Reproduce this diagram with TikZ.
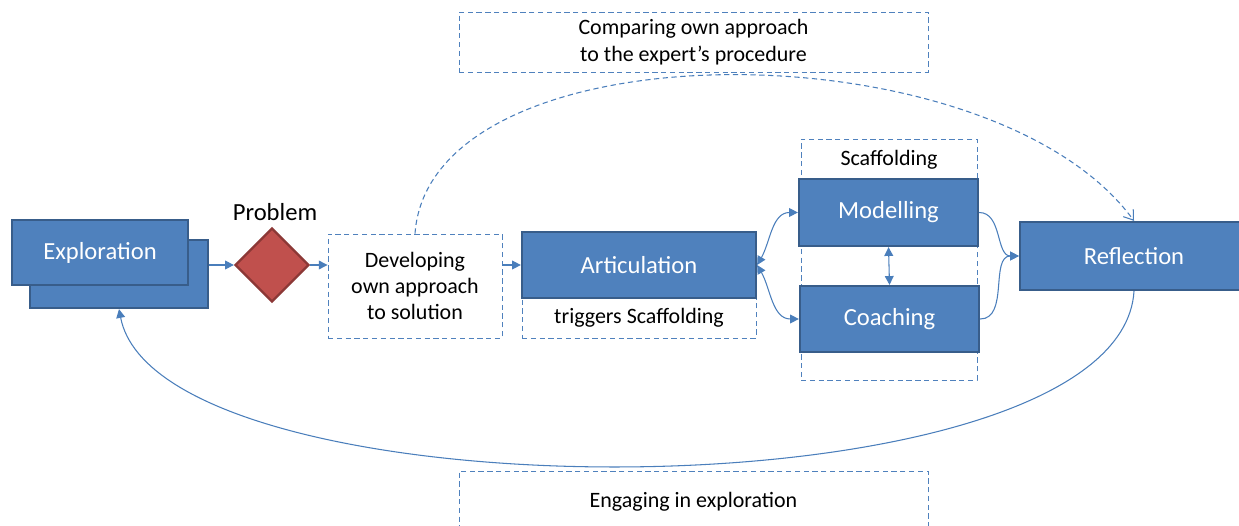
\documentclass[tikz,border=0pt]{standalone}
\usepackage{fontspec}
\setmainfont{Carlito}
\usetikzlibrary{shapes.geometric,arrows.meta}
\definecolor{bleu}{HTML}{4F81BD}
\definecolor{bleufonce}{HTML}{385D8A}
\definecolor{trait}{HTML}{4A7EBB}
\definecolor{rouge}{HTML}{C0504D}
\definecolor{rougefonce}{HTML}{8C3836}
\begin{document}
\begin{tikzpicture}[x=0.02cm,y=-0.02cm]
\tikzset{etape/.style={draw=bleufonce, line width=1.3pt, fill=bleu, text=white, font=\fontsize{14}{16}\selectfont},
cadre/.style={draw=bleu, densely dashed, line width=0.5pt, align=center, font=\fontsize{12.5}{15}\selectfont},
fleche/.style={draw=trait, line width=0.6pt, -{Triangle[length=5pt,width=5pt]}},
double/.style={draw=trait, line width=0.6pt, {Triangle[length=5pt,width=5pt]}-{Triangle[length=5pt,width=5pt]}}}
\useasboundingbox (0,0) rectangle (1239,526);
\clip (0,0) rectangle (1239,526);
\node[etape, minimum width=3.56cm, minimum height=1.36cm] (explb) at (119,274) {};
\node[etape, minimum width=3.52cm, minimum height=1.3cm] (expl) at (100,252.5) {Exploration};
\node[diamond, draw=rougefonce, line width=1.3pt, fill=rouge, inner sep=0pt, minimum size=1.48cm] (prob) at (272,265) {};
\node[font=\fontsize{14}{16}\selectfont] (problab) at (275,212) {Problem};
\node[cadre, minimum width=3.48cm, minimum height=2.08cm] (devel) at (415,286) {Developing\\own approach\\to solution};
\node[cadre, minimum width=4.68cm, minimum height=0.8cm] (trig) at (639,318) {triggers Scaffolding};
\node[etape, minimum width=4.68cm, minimum height=1.32cm] (artic) at (639,265) {Articulation};
\node[cadre, minimum width=3.52cm, minimum height=4.82cm] (scaff) at (889,259.5) {};
\node[font=\fontsize{12.5}{15}\selectfont] (scafflab) at (889,160) {Scaffolding};
\node[etape, minimum width=3.58cm, minimum height=1.34cm] (model) at (888.5,212.5) {Modelling};
\node[etape, minimum width=3.58cm, minimum height=1.32cm] (coach) at (889.5,319) {Coaching};
\node[etape, minimum width=4.56cm, minimum height=1.36cm] (refl) at (1134,256) {Reflection};
\node[cadre, minimum width=9.38cm, minimum height=1.2cm] (compar) at (693.5,42) {Comparing own approach\\to the expert’s procedure};
\node[cadre, minimum width=9.38cm, minimum height=1.24cm] (engag) at (693.5,502) {Engaging in exploration};
\draw[fleche] (prob.west -| explb.east) -- (prob.west);
\draw[fleche] (prob.east) -- (devel.west |- prob.east);
\draw[fleche] (devel.east |- artic.west) -- (artic.west);
\draw[double] (artic.east) to[out=60, in=180] (model.west);
\draw[double] (artic.east) to[out=-60, in=180] (coach.west);
\draw[double] (model.south) -- (coach.north);
\draw[fleche] (model.east) to[out=0, in=180] (refl.west);
\draw[fleche] (coach.east) to[out=0, in=180] (refl.west);
\draw[draw=trait, densely dashed, line width=0.6pt, -{Straight Barb[length=5pt,width=7pt]}] (devel.north) .. controls (430,24) and (990,24) .. (refl.north);
\draw[fleche] (refl.south) .. controls (1120,521) and (160,521) .. (explb.south);
\end{tikzpicture}
\end{document}
